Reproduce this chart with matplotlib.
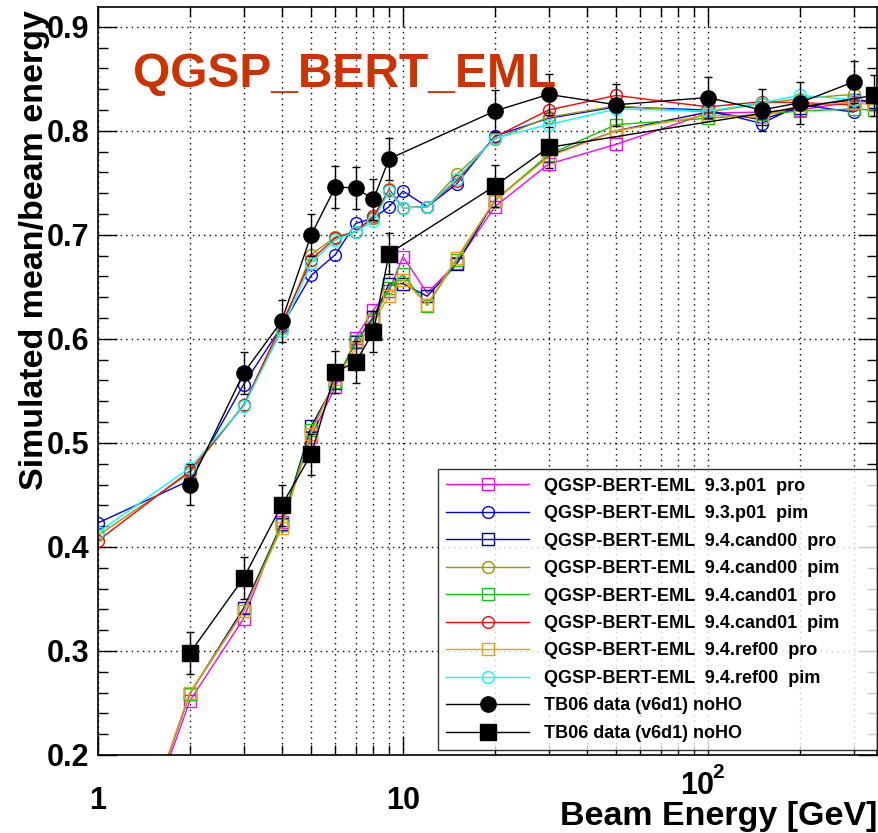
import numpy as np
import matplotlib
matplotlib.use("Agg")
from matplotlib import pyplot as plt
from matplotlib.ticker import FixedLocator, NullFormatter, FixedFormatter

plt.rcParams['font.family'] = ['Liberation Sans', 'DejaVu Sans']
plt.rcParams['font.weight'] = 'bold'

# energies (GeV)
e_pim = [1, 2, 3, 4, 5, 6, 7, 8, 9, 10, 12, 15, 20, 30, 50, 100, 150, 200, 300]
e_pro = [1, 2, 3, 4, 5, 6, 7, 8, 9, 10, 12, 15, 20, 30, 50, 100, 150, 200, 300, 350]
e_dat_pi = [2, 3, 4, 5, 6, 7, 8, 9, 20, 30, 50, 100, 150, 200, 300]
e_dat_p = [2, 3, 4, 5, 6, 7, 8, 9, 20, 30, 350]

# simulated response, pi-
pim_93p01 = [0.423, 0.464, 0.556, 0.612, 0.661, 0.681, 0.711, 0.716, 0.727, 0.742, 0.727, 0.749,
             0.795, 0.812, 0.823, 0.820, 0.807, 0.825, 0.818]
pim_cand00 = [0.411, 0.471, 0.536, 0.610, 0.681, 0.698, 0.703, 0.716, 0.744, 0.726, 0.727, 0.758,
              0.792, 0.813, 0.824, 0.818, 0.826, 0.831, 0.835]
pim_cand01 = [0.406, 0.473, 0.536, 0.614, 0.676, 0.697, 0.703, 0.718, 0.743, 0.726, 0.727, 0.752,
              0.794, 0.820, 0.834, 0.823, 0.828, 0.827, 0.825]
pim_ref00 = [0.414, 0.476, 0.535, 0.608, 0.673, 0.695, 0.703, 0.713, 0.742, 0.726, 0.727, 0.754,
             0.793, 0.806, 0.821, 0.819, 0.827, 0.834, 0.830]

# simulated response, protons
pro_93p01 = [0.005, 0.252, 0.331, 0.424, 0.506, 0.554, 0.601, 0.628, 0.646, 0.679, 0.644, 0.673,
             0.727, 0.768, 0.787, 0.817, 0.818, 0.820, 0.828, 0.828]
pro_cand00 = [0.005, 0.259, 0.341, 0.422, 0.516, 0.558, 0.597, 0.621, 0.653, 0.653, 0.641, 0.672,
              0.733, 0.776, 0.800, 0.818, 0.811, 0.822, 0.830, 0.828]
pro_cand01 = [0.005, 0.259, 0.338, 0.421, 0.512, 0.559, 0.598, 0.618, 0.649, 0.662, 0.632, 0.676,
              0.733, 0.777, 0.806, 0.812, 0.816, 0.819, 0.821, 0.820]
pro_ref00 = [0.005, 0.260, 0.338, 0.418, 0.509, 0.561, 0.591, 0.617, 0.641, 0.657, 0.633, 0.678,
             0.733, 0.775, 0.800, 0.815, 0.813, 0.825, 0.827, 0.825]

# TB06 data
dat_pi = [0.460, 0.567, 0.617, 0.700, 0.746, 0.745, 0.734, 0.773, 0.819, 0.835, 0.825, 0.832,
          0.820, 0.827, 0.847]
dat_pi_err = [0.02] * len(dat_pi)
dat_p = [0.298, 0.370, 0.440, 0.489, 0.568, 0.578, 0.607, 0.682, 0.747, 0.784, 0.834]
dat_p_err = [0.02] * len(dat_p)

fig = plt.figure(figsize=(8.79, 8.33), dpi=100)
ax = fig.add_axes([98 / 879, 1 - 755 / 833, 779 / 879, 748 / 833])

lw = 1.0
ms = 8.5
sims = [
    (e_pro, pro_93p01, '#ff00ff', 's', 'QGSP-BERT-EML  9.3.p01  pro'),
    (e_pim, pim_93p01, '#0000ff', 'o', 'QGSP-BERT-EML  9.3.p01  pim'),
    (e_pro, pro_cand00, '#000099', 's', 'QGSP-BERT-EML  9.4.cand00  pro'),
    (e_pim, pim_cand00, '#999900', 'o', 'QGSP-BERT-EML  9.4.cand00  pim'),
    (e_pro, pro_cand01, '#00cc00', 's', 'QGSP-BERT-EML  9.4.cand01  pro'),
    (e_pim, pim_cand01, '#ff0000', 'o', 'QGSP-BERT-EML  9.4.cand01  pim'),
    (e_pro, pro_ref00, '#ff9900', 's', 'QGSP-BERT-EML  9.4.ref00  pro'),
    (e_pim, pim_ref00, '#00ffff', 'o', 'QGSP-BERT-EML  9.4.ref00  pim'),
]
handles = []
for x, y, c, m, lab in sims:
    h, = ax.plot(x, y, color=c, lw=lw, marker=m, ms=ms, mfc='none', mec=c, mew=1.0, label=lab)
    handles.append(h)

for x, y, err, m in [(e_dat_pi, dat_pi, dat_pi_err, 'o'), (e_dat_p, dat_p, dat_p_err, 's')]:
    ax.errorbar(x, y, yerr=err, color='black', lw=lw, marker=m, ms=11, mfc='black', mec='black',
                ecolor='black', elinewidth=1.0, capsize=3, capthick=1.0)
    h, = ax.plot([], [], color='black', lw=lw, marker=m, ms=11, label='TB06 data (v6d1) noHO')
    handles.append(h)

ax.set_xscale('log')
ax.set_xlim(1, 358)
ax.set_ylim(0.2, 0.919)

ax.xaxis.set_major_locator(FixedLocator([1, 10, 100]))
ax.xaxis.set_major_formatter(FixedFormatter(['1', '10', '']))
minors = [2, 3, 4, 5, 6, 7, 8, 9, 20, 30, 40, 50, 60, 70, 80, 90, 200, 300]
ax.xaxis.set_minor_locator(FixedLocator(minors))
ax.xaxis.set_minor_formatter(NullFormatter())
ax.yaxis.set_major_locator(FixedLocator([0.2, 0.3, 0.4, 0.5, 0.6, 0.7, 0.8, 0.9]))
ax.yaxis.set_minor_locator(FixedLocator(np.arange(0.2, 0.92, 0.02)))
ax.set_yticklabels(['0.2', '0.3', '0.4', '0.5', '0.6', '0.7', '0.8', '0.9'])

ax.tick_params(which='both', direction='in', top=True, right=True, labelsize=22)
ax.tick_params(which='major', length=14, width=1)
ax.tick_params(which='minor', length=7, width=1)
ax.tick_params(axis='x', which='major', pad=22)
ax.tick_params(axis='y', which='major', pad=6)
ax.grid(True, which='both', axis='x', color='black', ls=(0, (1, 3)), lw=1.0)
ax.grid(True, which='major', axis='y', color='black', ls=(0, (1, 3)), lw=1.0)
for s in ax.spines.values():
    s.set_linewidth(1.2)

# 10^2 label, set a bit higher like in the original
fig.text(697 / 879, 1 - 786 / 833, '10', ha='center', va='center', fontsize=22, fontweight='bold')
fig.text(718 / 879, 1 - 772 / 833, '2', ha='center', va='center', fontsize=15, fontweight='bold')

fig.text(133 / 879, 1 - 75 / 833, 'QGSP_BERT_EML', color='#cc3300', fontsize=34.5, fontweight='bold',
         va='center', ha='left')

fig.text(877 / 879, 1 - 816 / 833, 'Beam Energy [GeV]', ha='right', va='center', fontsize=24.5,
         fontweight='bold')
fig.text(35 / 879, 1 - 250 / 833, 'Simulated mean/beam energy', rotation=90, ha='center', va='center',
         fontsize=24.5, fontweight='bold')

leg = ax.legend(handles=handles, loc='lower left', bbox_to_anchor=(0.4365, 0.0067, 0.5635, 0.3676),
                mode='expand', fontsize=13, frameon=True, fancybox=False, edgecolor='black',
                borderaxespad=0, handlelength=4.6, labelspacing=0.58, borderpad=0.45, handletextpad=0.8)
leg.get_frame().set_linewidth(1.0)
for t in leg.get_texts():
    t.set_fontweight('bold')

fig.savefig('out.png', dpi=100)
